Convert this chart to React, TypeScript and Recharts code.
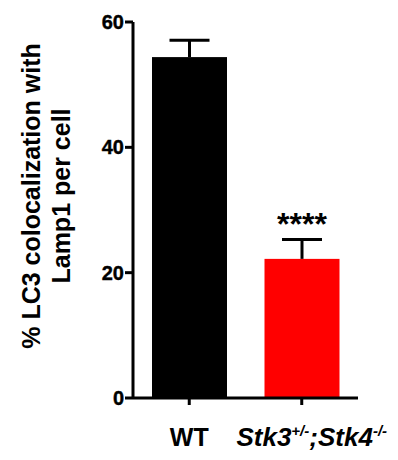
import React from 'react';
import { BarChart, Bar, XAxis, YAxis, Cell } from 'recharts';

// Values
const groups = ['WT', 'Stk3+/-;Stk4-/-'];
const means = [54.4, 22.2];
const sems = [2.7, 3.1];
const significance = ['', '****'];
const barColors = ['#000000', '#ff0000'];
const yTicks = [0, 20, 40, 60];

const data = groups.map((g, i) => ({ group: g, mean: means[i], sem: sems[i], sig: significance[i] }));

const FONT = '"Liberation Sans", Arial, Helvetica, sans-serif';

// bar with an upward-only error whisker, like GraphPad draws it
const BarWithError = (props: any) => {
  const { x, y, width, height, fill, payload } = props;
  const pxPerUnit = payload.mean ? height / payload.mean : 0;
  const top = y - payload.sem * pxPerUnit;
  const cx = x + width / 2;
  const capHalf = 20;
  return (
    <g>
      <rect x={x} y={y} width={width} height={height} fill={fill} />
      <line x1={cx} y1={y} x2={cx} y2={top} stroke="#000" strokeWidth={3} />
      <line x1={cx - capHalf} y1={top} x2={cx + capHalf} y2={top} stroke="#000" strokeWidth={3} />
      {payload.sig && (
        <text x={cx} y={top - 4} textAnchor="middle" fontFamily={FONT} fontWeight="bold" fontSize={32} fill="#000">
          {payload.sig}
        </text>
      )}
    </g>
  );
};

const ValueTick = ({ x, y, payload }: any) => (
  <text x={x} y={y} dy={7} textAnchor="end" fontFamily={FONT} fontWeight={700} fontSize={20} fill="#000" stroke="#000" strokeWidth={0.4}>
    {payload.value}
  </text>
);

// splits "Stk3+/-" style genotypes into italic name + superscript allele
const GroupTick = ({ x, y, payload }: any) => {
  const label: string = payload.value;
  const parts = label.match(/[A-Za-z]+\d|[+\-/]+|;/g);
  const baseY = y + 39;
  if (!parts || label === 'WT') {
    return (
      <text x={x} y={baseY} textAnchor="middle" fontFamily={FONT} fontWeight="bold" fontSize={25} fill="#000">
        {label}
      </text>
    );
  }
  let shifted = false;
  return (
    <text x={x + 10} y={baseY} textAnchor="middle" fontFamily={FONT} fontWeight="bold" fontStyle="italic" fontSize={26} fill="#000">
      {parts.map((p, i) => {
        const isSup = /^[+\-/]+$/.test(p);
        let dy: number | undefined;
        if (isSup && !shifted) { dy = -10; shifted = true; }
        else if (!isSup && shifted) { dy = 10; shifted = false; }
        return (
          <tspan key={i} dy={dy} fontSize={isSup ? 15 : 26}>{p}</tspan>
        );
      })}
    </text>
  );
};

const YLabel = () => (
  <text transform="translate(0, 196) rotate(-90)" textAnchor="middle" fontFamily={FONT} fontWeight="bold" fontSize={25} fill="#000">
    <tspan x={0} y={40}>% LC3 colocalization with</tspan>
    <tspan x={0} y={70}>Lamp1 per cell</tspan>
  </text>
);

export default function App() {
  return (
    <div style={{ position: 'absolute', left: 0, top: 0, background: '#fff' }}>
      <BarChart width={398} height={460} data={data} margin={{ top: 22, right: 40, left: 0, bottom: 0 }}>
        <YAxis
          domain={[0, 60]}
          ticks={yTicks}
          width={133}
          tickSize={8}
          tickMargin={1}
          axisLine={{ stroke: '#000', strokeWidth: 3 }}
          tickLine={{ stroke: '#000', strokeWidth: 3 }}
          tick={<ValueTick />}
          label={<YLabel />}
        />
        <XAxis
          dataKey="group"
          height={62}
          tickSize={7}
          tickMargin={2}
          axisLine={{ stroke: '#000', strokeWidth: 3 }}
          tickLine={{ stroke: '#000', strokeWidth: 3 }}
          tick={<GroupTick />}
          interval={0}
        />
        <Bar dataKey="mean" barSize={75} shape={<BarWithError />} isAnimationActive={false}>
          {data.map((d, i) => (
            <Cell key={d.group} fill={barColors[i]} />
          ))}
        </Bar>
      </BarChart>
    </div>
  );
}
